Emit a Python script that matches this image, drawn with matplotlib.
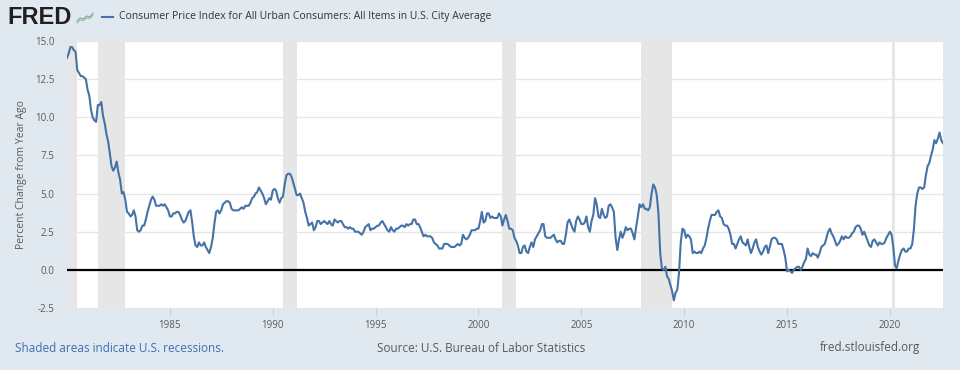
import numpy as np
import pandas as pd
import matplotlib
matplotlib.use('Agg')
import matplotlib.pyplot as plt

plt.rcParams['font.family'] = ['Open Sans', 'DejaVu Sans']

# CPI-U, percent change from year ago, monthly Jan 1980 - Aug 2022
cpi_yoy = [
    13.9, 14.2, 14.6, 14.6, 14.4, 14.3, 13.1, 12.9, 12.7, 12.7, 12.6, 12.5,  # 1980
    11.8, 11.4, 10.5, 10.0, 9.8, 9.7, 10.8, 10.8, 11.0, 10.1, 9.6, 8.9,      # 1981
    8.4, 7.6, 6.8, 6.5, 6.7, 7.1, 6.4, 5.9, 5.0, 5.1, 4.6, 3.8,              # 1982
    3.7, 3.5, 3.6, 3.9, 3.5, 2.6, 2.5, 2.6, 2.9, 2.9, 3.3, 3.8,              # 1983
    4.2, 4.6, 4.8, 4.6, 4.2, 4.2, 4.2, 4.3, 4.2, 4.3, 4.1, 3.9,              # 1984
    3.5, 3.5, 3.7, 3.7, 3.8, 3.8, 3.6, 3.3, 3.1, 3.2, 3.5, 3.8,              # 1985
    3.9, 3.1, 2.2, 1.6, 1.5, 1.8, 1.6, 1.6, 1.8, 1.5, 1.3, 1.1,              # 1986
    1.5, 2.1, 3.0, 3.8, 3.9, 3.7, 3.9, 4.3, 4.4, 4.5, 4.5, 4.4,              # 1987
    4.0, 3.9, 3.9, 3.9, 3.9, 4.0, 4.1, 4.0, 4.2, 4.2, 4.2, 4.4,              # 1988
    4.7, 4.8, 5.0, 5.1, 5.4, 5.2, 5.0, 4.7, 4.3, 4.5, 4.7, 4.6,              # 1989
    5.2, 5.3, 5.2, 4.7, 4.4, 4.7, 4.8, 5.6, 6.2, 6.3, 6.3, 6.1,              # 1990
    5.7, 5.3, 4.9, 4.9, 5.0, 4.7, 4.4, 3.8, 3.4, 2.9, 3.0, 3.1,              # 1991
    2.6, 2.8, 3.2, 3.2, 3.0, 3.1, 3.2, 3.1, 3.0, 3.2, 3.0, 2.9,              # 1992
    3.3, 3.2, 3.1, 3.2, 3.2, 3.0, 2.8, 2.8, 2.7, 2.8, 2.7, 2.7,              # 1993
    2.5, 2.5, 2.5, 2.4, 2.3, 2.5, 2.8, 2.9, 3.0, 2.6, 2.7, 2.7,              # 1994
    2.8, 2.9, 2.9, 3.1, 3.2, 3.0, 2.8, 2.6, 2.5, 2.8, 2.6, 2.5,              # 1995
    2.7, 2.7, 2.8, 2.9, 2.9, 2.8, 3.0, 2.9, 3.0, 3.0, 3.3, 3.3,              # 1996
    3.0, 3.0, 2.8, 2.5, 2.2, 2.3, 2.2, 2.2, 2.2, 2.1, 1.8, 1.7,              # 1997
    1.6, 1.4, 1.4, 1.4, 1.7, 1.7, 1.7, 1.6, 1.5, 1.5, 1.5, 1.6,              # 1998
    1.7, 1.6, 1.7, 2.3, 2.1, 2.0, 2.1, 2.3, 2.6, 2.6, 2.6, 2.7,              # 1999
    2.7, 3.2, 3.8, 3.1, 3.2, 3.7, 3.7, 3.4, 3.5, 3.4, 3.4, 3.4,              # 2000
    3.7, 3.5, 2.9, 3.3, 3.6, 3.2, 2.7, 2.7, 2.6, 2.1, 1.9, 1.6,              # 2001
    1.1, 1.1, 1.5, 1.6, 1.2, 1.1, 1.5, 1.8, 1.5, 2.0, 2.2, 2.4,              # 2002
    2.6, 3.0, 3.0, 2.2, 2.1, 2.1, 2.1, 2.2, 2.3, 2.0, 1.8, 1.9,              # 2003
    1.9, 1.7, 1.7, 2.3, 3.1, 3.3, 3.0, 2.7, 2.5, 3.2, 3.5, 3.3,              # 2004
    3.0, 3.0, 3.1, 3.5, 2.8, 2.5, 3.2, 3.6, 4.7, 4.3, 3.5, 3.4,              # 2005
    4.0, 3.6, 3.4, 3.5, 4.2, 4.3, 4.1, 3.8, 2.1, 1.3, 2.0, 2.5,              # 2006
    2.1, 2.4, 2.8, 2.6, 2.7, 2.7, 2.4, 2.0, 2.8, 3.5, 4.3, 4.1,              # 2007
    4.3, 4.0, 4.0, 3.9, 4.1, 5.0, 5.6, 5.4, 4.9, 3.7, 1.1, 0.1,              # 2008
    0.0, 0.2, -0.4, -0.6, -1.0, -1.4, -2.0, -1.5, -1.3, -0.2, 1.8, 2.7,      # 2009
    2.6, 2.1, 2.3, 2.2, 2.0, 1.1, 1.2, 1.1, 1.1, 1.2, 1.1, 1.4,              # 2010
    1.6, 2.1, 2.7, 3.2, 3.6, 3.6, 3.6, 3.8, 3.9, 3.5, 3.4, 3.0,              # 2011
    2.9, 2.9, 2.7, 2.3, 1.7, 1.7, 1.4, 1.7, 2.0, 2.2, 1.8, 1.7,              # 2012
    1.6, 2.0, 1.5, 1.1, 1.4, 1.8, 2.0, 1.5, 1.2, 1.0, 1.2, 1.5,              # 2013
    1.6, 1.1, 1.5, 2.0, 2.1, 2.1, 2.0, 1.7, 1.7, 1.7, 1.3, 0.8,              # 2014
    -0.1, 0.0, -0.1, -0.2, 0.0, 0.1, 0.2, 0.2, 0.0, 0.2, 0.5, 0.7,          # 2015
    1.4, 1.0, 0.9, 1.1, 1.0, 1.0, 0.8, 1.1, 1.5, 1.6, 1.7, 2.1,              # 2016
    2.5, 2.7, 2.4, 2.2, 1.9, 1.6, 1.7, 1.9, 2.2, 2.0, 2.2, 2.1,              # 2017
    2.1, 2.2, 2.4, 2.5, 2.8, 2.9, 2.9, 2.7, 2.3, 2.5, 2.2, 1.9,              # 2018
    1.6, 1.5, 1.9, 2.0, 1.8, 1.6, 1.8, 1.7, 1.7, 1.8, 2.1, 2.3,              # 2019
    2.5, 2.3, 1.5, 0.3, 0.1, 0.6, 1.0, 1.3, 1.4, 1.2, 1.2, 1.4,              # 2020
    1.4, 1.7, 2.6, 4.2, 5.0, 5.4, 5.4, 5.3, 5.4, 6.2, 6.8, 7.0,              # 2021
    7.5, 7.9, 8.5, 8.3, 8.6, 9.0, 8.5, 8.3,                                  # 2022
]
dates = pd.date_range('1980-01-01', periods=len(cpi_yoy), freq='MS')

# NBER recessions
rec_start = ['1980-01-01', '1981-07-01', '1990-07-01', '2001-03-01', '2007-12-01', '2020-02-01']
rec_end = ['1980-07-01', '1982-11-01', '1991-03-01', '2001-11-01', '2009-06-01', '2020-04-01']

yticks = [-2.5, 0.0, 2.5, 5.0, 7.5, 10.0, 12.5, 15.0]
xtick_years = [1985, 1990, 1995, 2000, 2005, 2010, 2015, 2020]

bg = '#e1e9f0'
line_col = '#4572a7'
txt = '#595959'

fig = plt.figure(figsize=(9.6, 3.7), dpi=100, facecolor=bg)
ax = fig.add_axes([67/960, 62/370, 876/960, 267/370])
ax.set_facecolor('white')

for s, e in zip(rec_start, rec_end):
    ax.axvspan(pd.Timestamp(s), pd.Timestamp(e), color='#e6e6e6', lw=0, zorder=0)

for y in yticks:
    ax.axhline(y, color='#e6e6e6', lw=1, zorder=1)
ax.axhline(0, color='black', lw=1.6, zorder=2)

ax.plot(dates, cpi_yoy, color=line_col, lw=1.5, zorder=3)

ax.set_xlim(dates[0], dates[-1])
ax.set_ylim(-2.5, 15.0)
ax.set_yticks(yticks)
ax.set_yticklabels(['%.1f' % v for v in yticks])
ax.set_xticks([pd.Timestamp('%d-01-01' % y) for y in xtick_years])
ax.set_xticklabels([str(y) for y in xtick_years])
ax.tick_params(axis='y', length=0, labelsize=7, colors=txt, pad=9)
ax.tick_params(axis='x', length=5, color='#c0d0e0', labelsize=7, colors=txt, pad=4)
for sp in ax.spines.values():
    sp.set_visible(False)
ax.set_ylabel('Percent Change from Year Ago', fontsize=7.5, color=txt, labelpad=6)

# header
fig.text(7/960, 1 - 17/370, 'FRED', fontsize=17, fontweight='heavy', color='#231f20',
         va='center', ha='left', family=['Liberation Sans', 'DejaVu Sans'])
logo_x = [0, 1, 2, 3, 4, 5]
logo_a = [0.2, 0.5, 0.4, 0.7, 0.6, 1.0]
logo_b = [0.0, 0.3, 0.25, 0.5, 0.45, 0.8]
lax = fig.add_axes([76/960, 1 - 25/370, 18/960, 14/370])
lax.plot(logo_x, logo_a, color='#7aa0c8', lw=0.8)
lax.plot(logo_x, logo_b, color='#9cc46a', lw=0.8)
lax.set_xlim(-0.3, 5.3)
lax.set_ylim(-0.2, 1.2)
lax.axis('off')

fig.lines.append(plt.Line2D([102/960, 113/960], [1 - 17/370, 1 - 17/370],
                            color=line_col, lw=1.5, transform=fig.transFigure))
fig.text(119/960, 1 - 17/370,
         'Consumer Price Index for All Urban Consumers: All Items in U.S. City Average',
         fontsize=7.5, color='#333333', va='center', ha='left')

# footer
fig.text(15/960, 1 - 348/370, 'Shaded areas indicate U.S. recessions.', fontsize=8.5,
         color='#3e6eb0', va='center', ha='left')
fig.text(377/960, 1 - 348/370, 'Source: U.S. Bureau of Labor Statistics', fontsize=8.5,
         color=txt, va='center', ha='left')
fig.text(920/960, 1 - 348/370, 'fred.stlouisfed.org', fontsize=8.5,
         color=txt, va='center', ha='right')

fig.savefig('out.png', dpi=100, facecolor=bg)
